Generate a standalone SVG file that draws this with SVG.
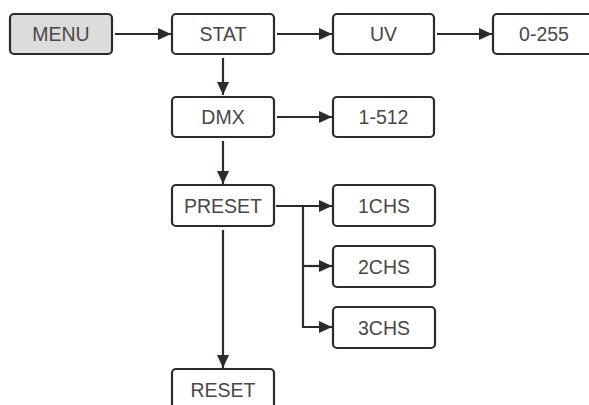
<svg xmlns="http://www.w3.org/2000/svg" width="589" height="405" viewBox="0 0 589 405">
<style>
.box{fill:#fff;stroke:#2e2a2a;stroke-width:2.2}
.menu{fill:#dcdcdc}
.lbl{font-family:"Liberation Sans",Arial,sans-serif;font-size:19.5px;fill:#4a4747;text-anchor:middle;dominant-baseline:central}
.con{fill:none;stroke:#2e2a2a;stroke-width:2.2}
</style>
<defs>
<marker id="ah" viewBox="0 0 13 12" refX="13" refY="6" markerWidth="13" markerHeight="12" markerUnits="userSpaceOnUse" orient="auto">
<path d="M0,0 L13,6 L0,12 Z" fill="#2e2a2a"/>
</marker>
</defs>
<g id="connectors">
<line class="con" x1="115" y1="34" x2="171" y2="34" marker-end="url(#ah)"/>
<line class="con" x1="277" y1="34" x2="332" y2="34" marker-end="url(#ah)"/>
<line class="con" x1="437" y1="34" x2="492" y2="34" marker-end="url(#ah)"/>
<line class="con" x1="223" y1="58" x2="223" y2="95" marker-end="url(#ah)"/>
<line class="con" x1="277" y1="117" x2="332" y2="117" marker-end="url(#ah)"/>
<line class="con" x1="223" y1="141" x2="223" y2="184" marker-end="url(#ah)"/>
<line class="con" x1="276" y1="206" x2="332" y2="206" marker-end="url(#ah)"/>
<polyline class="con" points="303,206 303,327 332,327" marker-end="url(#ah)"/>
<line class="con" x1="303" y1="266" x2="332" y2="266" marker-end="url(#ah)"/>
<line class="con" x1="223" y1="230" x2="223" y2="368" marker-end="url(#ah)"/>
</g>
<g id="menu"><rect class="box menu" x="10" y="14" width="102" height="40" rx="4"/><text class="lbl" x="61" y="34">MENU</text></g>
<g id="stat"><rect class="box" x="172" y="14" width="102" height="40" rx="4"/><text class="lbl" x="223" y="34">STAT</text></g>
<g id="uv"><rect class="box" x="333" y="14" width="101" height="40" rx="4"/><text class="lbl" x="383.5" y="34">UV</text></g>
<g id="r0-255"><rect class="box" x="493" y="14" width="102" height="40" rx="4"/><text class="lbl" x="544" y="34">0-255</text></g>
<g id="dmx"><rect class="box" x="172" y="97" width="102" height="40" rx="4"/><text class="lbl" x="223" y="117">DMX</text></g>
<g id="r1-512"><rect class="box" x="333" y="97" width="101" height="40" rx="4"/><text class="lbl" x="383.5" y="117">1-512</text></g>
<g id="preset"><rect class="box" x="172" y="185" width="102" height="41" rx="4"/><text class="lbl" x="223" y="205.5">PRESET</text></g>
<g id="ch1"><rect class="box" x="333" y="185" width="102" height="41" rx="4"/><text class="lbl" x="384" y="205.5">1CHS</text></g>
<g id="ch2"><rect class="box" x="333" y="246" width="102" height="41" rx="4"/><text class="lbl" x="384" y="266.5">2CHS</text></g>
<g id="ch3"><rect class="box" x="333" y="307" width="102" height="41" rx="4"/><text class="lbl" x="384" y="327.5">3CHS</text></g>
<g id="reset"><rect class="box" x="172" y="369" width="102" height="41" rx="4"/><text class="lbl" x="223" y="389.5">RESET</text></g>
</svg>
